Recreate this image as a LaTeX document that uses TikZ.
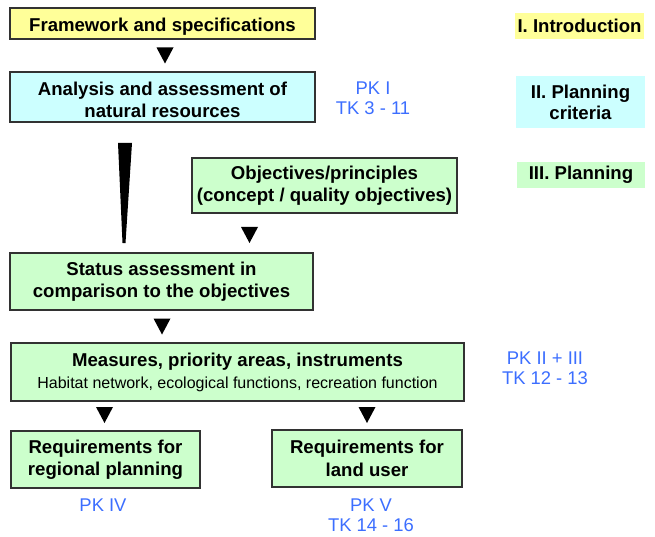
\documentclass[tikz,border=0pt]{standalone}
\usepackage{fontspec}
\setmainfont{Liberation Sans}
\usetikzlibrary{calc}
\definecolor{cyellow}{RGB}{255,255,153}
\definecolor{ccyan}{RGB}{204,255,255}
\definecolor{cgreen}{RGB}{204,255,204}
\definecolor{cblue}{RGB}{60,110,255}
\definecolor{cborder}{RGB}{50,50,50}
\begin{document}
\begin{tikzpicture}[x=1pt,y=-1pt,
  box/.style={draw=cborder,line width=1.3pt,align=center,inner sep=0pt,
    font=\bfseries\fontsize{18.6}{22.5}\selectfont},
  tag/.style={align=center,inner sep=0pt,font=\bfseries\fontsize{18.6}{21}\selectfont},
  reftext/.style={align=center,inner sep=0pt,text=cblue,font=\fontsize{18.4}{20}\selectfont},
  tri/.style={fill=black}]
\useasboundingbox (0,0) rectangle (655,537);

% main boxes
\node[box,fill=cyellow,minimum width=305pt,minimum height=31pt,text height=20.5pt] (b1) at (162.5,23.5) {Framework and specifications};
\node[box,fill=ccyan,minimum width=305pt,minimum height=50pt,text height=42pt,text depth=0pt] (b2) at (162.5,97) {Analysis and assessment of\\natural resources};
\node[box,fill=cgreen,minimum width=265pt,minimum height=55pt] (obj) at (324.5,185.5) {Objectives/principles\\(concept / quality objectives)};
\node[box,fill=cgreen,minimum width=303pt,minimum height=57pt] (stat) at (161.5,281.5) {Status assessment in\\comparison to the objectives};
\node[box,fill=cgreen,minimum width=453pt,minimum height=58pt,font=\fontsize{16}{22}\selectfont] (meas) at (237.5,372)
  {{\bfseries\fontsize{18.6}{22}\selectfont Measures, priority areas, instruments}\\Habitat network, ecological functions, recreation function};
\node[box,fill=cgreen,minimum width=189pt,minimum height=57pt] (reg) at (105.5,459.5) {Requirements for\\regional planning};
\node[box,fill=cgreen,minimum width=190pt,minimum height=57pt] (land) at (367,458.5) {Requirements for\\land user};

% phase tags
\node[tag,fill=cyellow,minimum width=129pt,minimum height=26pt] (p1) at (579.5,26) {I. Introduction};
\node[tag,fill=ccyan,minimum width=129pt,minimum height=52pt] (p2) at (580.5,102) {II. Planning\\criteria};
\node[tag,fill=cgreen,minimum width=128pt,minimum height=26pt] (p3) at (581,175) {III. Planning};

% references
\node[reftext] (r1) at (373,98) {PK I\\TK 3 - 11};
\node[reftext] (r2) at (545,368) {PK II + III\\TK 12 - 13};
\node[reftext] (r3) at (103,505) {PK IV};
\node[reftext] (r4) at (371,515) {PK V\\TK 14 - 16};

% arrow triangles
\coordinate (t1) at (165,55.5);
\coordinate (t2) at (249.5,235);
\coordinate (t3) at (162,326.5);
\coordinate (t4) at (104.5,415);
\coordinate (t5) at (367,415);
\foreach \t in {t1,t2,t3,t4,t5}
  \fill[tri] (\t) ++(-8.5,-8) -- ++(17,0) -- ++(-8.5,16) -- cycle;

% wedge from analysis to status
\coordinate (w1) at (125,143);
\coordinate (w2) at (124,243);
\fill[tri] ($(w1)+(-7,0)$) -- ($(w1)+(7,0)$) -- ($(w2)+(1.5,0)$) -- ($(w2)+(-1.5,0)$) -- cycle;
\end{tikzpicture}
\end{document}
